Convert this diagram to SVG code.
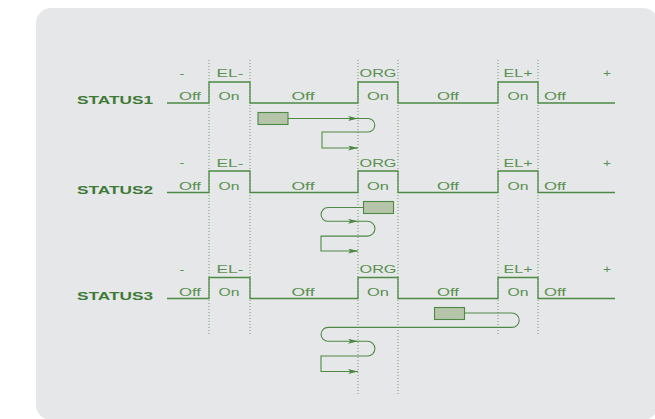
<svg xmlns="http://www.w3.org/2000/svg" width="655" height="419" viewBox="0 0 655 419">
<defs>
<style>
.bg{fill:#e6e7e9}
.wave{fill:none;stroke:#4e8a46;stroke-width:1.3}
.dot{fill:none;stroke:#6f9868;stroke-width:1;stroke-dasharray:1 2}
.conn{fill:none;stroke:#4e8a46;stroke-width:1.1}
.blk{fill:#b6c4a9;stroke:#4e8a46;stroke-width:1.1}
.t{font-family:"Liberation Sans",Arial,sans-serif;font-size:10.3px;fill:#5a9150;text-anchor:middle}
.s{font-family:"Liberation Sans",Arial,sans-serif;font-size:10.7px;font-weight:bold;fill:#3f7a37}
</style>
<marker id="ah" markerUnits="userSpaceOnUse" markerWidth="10" markerHeight="5" refX="10" refY="2.5" orient="auto">
<path d="M0,0 L10,2.5 L0,5 L2.5,2.5 z" fill="#4a8542"/>
</marker>
</defs>
<rect class="bg" x="36" y="8" width="622" height="412" rx="15"/>
<g id="guides">
<line class="dot" x1="209" y1="60" x2="209" y2="335"/>
<line class="dot" x1="250" y1="60" x2="250" y2="335"/>
<line class="dot" x1="358" y1="60" x2="358" y2="394"/>
<line class="dot" x1="398" y1="60" x2="398" y2="394"/>
<line class="dot" x1="498" y1="60" x2="498" y2="335"/>
<line class="dot" x1="538" y1="60" x2="538" y2="335"/>
</g>
<g id="status1">
<path class="wave" d="M167,103 H209 V82 H250 V103 H358 V82 H398 V103 H498 V82 H538 V103 H615"/>
<text class="s" x="77" y="104" textLength="76" lengthAdjust="spacingAndGlyphs">STATUS1</text>
<text class="t" x="182" y="76.5" textLength="5" lengthAdjust="spacingAndGlyphs">-</text>
<text class="t" x="230" y="77" textLength="27" lengthAdjust="spacingAndGlyphs">EL-</text>
<text class="t" x="378" y="77" textLength="37" lengthAdjust="spacingAndGlyphs">ORG</text>
<text class="t" x="518" y="77" textLength="29" lengthAdjust="spacingAndGlyphs">EL+</text>
<text class="t" x="607" y="77" textLength="8" lengthAdjust="spacingAndGlyphs">+</text>
<text class="t" x="190" y="100" textLength="22" lengthAdjust="spacingAndGlyphs">Off</text>
<text class="t" x="229" y="100" textLength="21" lengthAdjust="spacingAndGlyphs">On</text>
<text class="t" x="303" y="100" textLength="23" lengthAdjust="spacingAndGlyphs">Off</text>
<text class="t" x="378" y="100" textLength="22" lengthAdjust="spacingAndGlyphs">On</text>
<text class="t" x="448" y="100" textLength="22" lengthAdjust="spacingAndGlyphs">Off</text>
<text class="t" x="518" y="100" textLength="21" lengthAdjust="spacingAndGlyphs">On</text>
<text class="t" x="555" y="100" textLength="22" lengthAdjust="spacingAndGlyphs">Off</text>
</g>
<g id="status2">
<path class="wave" d="M167,192.5 H209 V171 H250 V192.5 H358 V171 H398 V192.5 H498 V171 H538 V192.5 H615"/>
<text class="s" x="77" y="193.5" textLength="76" lengthAdjust="spacingAndGlyphs">STATUS2</text>
<text class="t" x="182" y="166" textLength="5" lengthAdjust="spacingAndGlyphs">-</text>
<text class="t" x="230" y="166.5" textLength="27" lengthAdjust="spacingAndGlyphs">EL-</text>
<text class="t" x="378" y="166.5" textLength="37" lengthAdjust="spacingAndGlyphs">ORG</text>
<text class="t" x="518" y="166.5" textLength="29" lengthAdjust="spacingAndGlyphs">EL+</text>
<text class="t" x="607" y="166.5" textLength="8" lengthAdjust="spacingAndGlyphs">+</text>
<text class="t" x="190" y="189.5" textLength="22" lengthAdjust="spacingAndGlyphs">Off</text>
<text class="t" x="229" y="189.5" textLength="21" lengthAdjust="spacingAndGlyphs">On</text>
<text class="t" x="303" y="189.5" textLength="23" lengthAdjust="spacingAndGlyphs">Off</text>
<text class="t" x="378" y="189.5" textLength="22" lengthAdjust="spacingAndGlyphs">On</text>
<text class="t" x="448" y="189.5" textLength="22" lengthAdjust="spacingAndGlyphs">Off</text>
<text class="t" x="518" y="189.5" textLength="21" lengthAdjust="spacingAndGlyphs">On</text>
<text class="t" x="555" y="189.5" textLength="22" lengthAdjust="spacingAndGlyphs">Off</text>
</g>
<g id="status3">
<path class="wave" d="M167,298.5 H209 V277.5 H250 V298.5 H358 V277.5 H398 V298.5 H498 V277.5 H538 V298.5 H615"/>
<text class="s" x="77" y="299.5" textLength="76" lengthAdjust="spacingAndGlyphs">STATUS3</text>
<text class="t" x="182" y="272.5" textLength="5" lengthAdjust="spacingAndGlyphs">-</text>
<text class="t" x="230" y="273" textLength="27" lengthAdjust="spacingAndGlyphs">EL-</text>
<text class="t" x="378" y="273" textLength="37" lengthAdjust="spacingAndGlyphs">ORG</text>
<text class="t" x="518" y="273" textLength="29" lengthAdjust="spacingAndGlyphs">EL+</text>
<text class="t" x="607" y="273" textLength="8" lengthAdjust="spacingAndGlyphs">+</text>
<text class="t" x="190" y="295.5" textLength="22" lengthAdjust="spacingAndGlyphs">Off</text>
<text class="t" x="229" y="295.5" textLength="21" lengthAdjust="spacingAndGlyphs">On</text>
<text class="t" x="303" y="295.5" textLength="23" lengthAdjust="spacingAndGlyphs">Off</text>
<text class="t" x="378" y="295.5" textLength="22" lengthAdjust="spacingAndGlyphs">On</text>
<text class="t" x="448" y="295.5" textLength="22" lengthAdjust="spacingAndGlyphs">Off</text>
<text class="t" x="518" y="295.5" textLength="21" lengthAdjust="spacingAndGlyphs">On</text>
<text class="t" x="555" y="295.5" textLength="22" lengthAdjust="spacingAndGlyphs">Off</text>
</g>
<g id="block1"><rect class="blk" x="258" y="112.5" width="30" height="12"/></g>
<g id="block2"><rect class="blk" x="363.5" y="201.5" width="30" height="12"/></g>
<g id="block3"><rect class="blk" x="434.5" y="307.5" width="30" height="12"/></g>
<g id="connectors">
<path class="conn" d="M288,118.5 H358" marker-end="url(#ah)"/>
<path class="conn" d="M358,118.5 H368 A6.75,6.75 0 0 1 368,132 H322 V148 H358" marker-end="url(#ah)"/>
<path class="conn" d="M363.5,207.5 H328 A6.9,6.9 0 0 0 328,221.3 H358" marker-end="url(#ah)"/>
<path class="conn" d="M358,221.3 H367.5 A7.4,7.4 0 0 1 367.5,236.1 H321 V251 H358" marker-end="url(#ah)"/>
<path class="conn" d="M464.5,313 H512 A7.2,7.2 0 0 1 512,327.4 H328 A6.9,6.9 0 0 0 328,341.2 H358" marker-end="url(#ah)"/>
<path class="conn" d="M358,341.2 H367.5 A7.4,7.4 0 0 1 367.5,356 H321 V371.5 H358" marker-end="url(#ah)"/>
</g>
</svg>
